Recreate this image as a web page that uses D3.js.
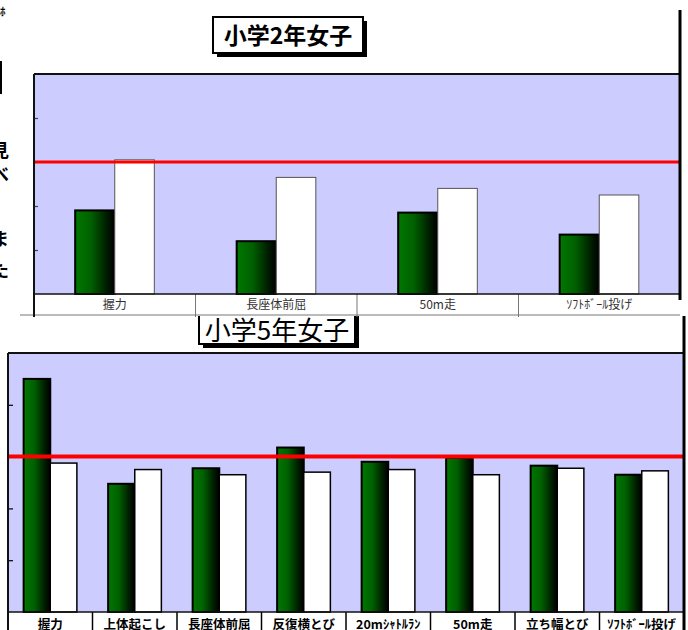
<!DOCTYPE html>
<html>
<head>
<meta charset="utf-8">
<script src="https://cdn.jsdelivr.net/npm/d3@7"></script>
<style>
  body { margin: 0; background: #fff; }
  svg { display: block; font-family: "Noto Sans CJK JP", "Noto Sans", sans-serif; }
</style>
</head>
<body>
<svg id="v1" width="688" height="630"></svg>
<script>
// --- data ---
const grade2Title = "小学2年女子";
const grade2Categories = ["握力", "長座体前屈", "50m走", "ｿﾌﾄﾎﾞｰﾙ投げ"];
const grade2School = [38, 24, 37, 27];
const grade2National = [61, 53, 48, 45];

const grade5Title = "小学5年女子";
const grade5Categories = ["握力", "上体起こし", "長座体前屈", "反復横とび", "20mｼｬﾄﾙﾗﾝ", "50m走", "立ち幅とび", "ｿﾌﾄﾎﾞｰﾙ投げ"];
const grade5School = [90, 49.5, 55.5, 63.5, 58, 59.5, 56.5, 53];
const grade5National = [57.5, 55, 53, 54, 55, 53, 55.5, 54.5];

const yDomain = [0, 100];
const yTicks = [20, 40, 60, 80];
const refValue = 60;

// cut-off text from the page column at the left edge
const edgeChars = [["ﾎ", 16, 11], ["見", 157, 18], ["べ", 181, 18], ["ま", 246, 18], ["た", 277, 18]];

const svg = d3.select("#v1");
const defs = svg.append("defs");

const grad = defs.append("linearGradient").attr("id", "greenGrad")
  .attr("x1", "0%").attr("x2", "100%").attr("y1", "0%").attr("y2", "0%");
grad.append("stop").attr("offset", "0%").attr("stop-color", "#007800");
grad.append("stop").attr("offset", "40%").attr("stop-color", "#006000");
grad.append("stop").attr("offset", "80%").attr("stop-color", "#001c00");
grad.append("stop").attr("offset", "100%").attr("stop-color", "#000000");

function drawChart(id, title, cats, school, national, L) {
  let g = svg.append("g");
  if (L.clipTop != null) {
    defs.append("clipPath").attr("id", id + "_clip")
      .append("rect").attr("x", 0).attr("y", L.clipTop).attr("width", 688).attr("height", 630 - L.clipTop);
    g.attr("clip-path", `url(#${id}_clip)`);
  }

  const x = d3.scaleBand().domain(cats).range([L.left, L.right]);
  const y = d3.scaleLinear().domain(yDomain).range([L.bottom, L.top]);
  const inner = d3.scaleBand().domain(["school", "national"])
    .range([0, x.bandwidth() * L.groupFrac]);
  const off = (x.bandwidth() * (1 - L.groupFrac)) / 2;

  // title box with shadow
  const t = L.title;
  g.append("rect").attr("x", t.x + t.shadow).attr("y", t.y + t.shadow)
    .attr("width", t.w).attr("height", t.h).attr("fill", "#000");
  g.append("rect").attr("x", t.x).attr("y", t.y).attr("width", t.w).attr("height", t.h)
    .attr("fill", "#fff").attr("stroke", "#000").attr("stroke-width", 2);
  g.append("text").attr("x", t.x + t.w / 2).attr("y", t.base)
    .attr("text-anchor", "middle").attr("font-size", t.size + "px")
    .attr("font-weight", t.weight).attr("fill", "#000").text(title);

  // plot background
  g.append("rect").attr("x", L.left).attr("y", L.top)
    .attr("width", L.right - L.left).attr("height", L.bottom - L.top)
    .attr("fill", "#ccccff");

  // y axis ticks (no labels)
  const ax = g.append("g").attr("transform", `translate(${L.left},0)`)
    .call(d3.axisLeft(y).tickValues(yTicks).tickSize(-L.tick).tickFormat(""));
  ax.select(".domain").remove();
  ax.selectAll("line").attr("stroke", L.tickColor).attr("stroke-width", 1.2);

  // label row
  g.append("rect").attr("x", L.left).attr("y", L.bottom)
    .attr("width", L.right - L.left).attr("height", L.labelBottom - L.bottom).attr("fill", "#fff");
  g.selectAll(".sep").data(cats.slice(1)).enter().append("line")
    .attr("x1", (d) => x(d)).attr("x2", (d) => x(d))
    .attr("y1", L.bottom).attr("y2", L.labelBottom + 2)
    .attr("stroke", L.cellColor).attr("stroke-width", L.cellWidth);
  if (L.labelLine) {
    g.append("line").attr("x1", L.labelLineLeft).attr("x2", L.right)
      .attr("y1", L.labelBottom).attr("y2", L.labelBottom)
      .attr("stroke", L.cellColor).attr("stroke-width", 1);
  }
  g.selectAll(".lab").data(cats).enter().append("text")
    .attr("x", (d) => x(d) + x.bandwidth() / 2).attr("y", L.labelBase)
    .attr("text-anchor", "middle").attr("font-size", L.labelSize + "px")
    .attr("font-weight", L.labelWeight).attr("fill", L.labelColor)
    .text((d) => d);

  // bars
  const rows = cats.map((c, i) => ({ c, school: school[i], national: national[i] }));
  const grp = g.selectAll(".grp").data(rows).enter().append("g")
    .attr("transform", (d) => `translate(${x(d.c) + off},0)`);
  grp.append("rect")
    .attr("x", inner("school")).attr("width", inner.bandwidth())
    .attr("y", (d) => y(d.school)).attr("height", (d) => L.bottom - y(d.school))
    .attr("fill", "url(#greenGrad)").attr("stroke", "#000").attr("stroke-width", L.greenStroke);
  grp.append("rect")
    .attr("x", inner("national")).attr("width", inner.bandwidth())
    .attr("y", (d) => y(d.national)).attr("height", (d) => L.bottom - y(d.national))
    .attr("fill", "#fff").attr("stroke", L.whiteStrokeColor).attr("stroke-width", L.whiteStroke);

  // reference line
  g.append("line").attr("x1", L.left).attr("x2", L.right)
    .attr("y1", y(refValue)).attr("y2", y(refValue))
    .attr("stroke", "#ff0000").attr("stroke-width", L.refWidth);

  // plot frame
  g.append("line").attr("x1", L.left).attr("x2", L.right).attr("y1", L.top).attr("y2", L.top)
    .attr("stroke", "#111").attr("stroke-width", 2);
  g.append("line").attr("x1", L.left).attr("x2", L.right).attr("y1", L.bottom).attr("y2", L.bottom)
    .attr("stroke", "#111").attr("stroke-width", 1.5);
  g.append("line").attr("x1", L.left).attr("x2", L.left).attr("y1", L.top).attr("y2", L.labelBottom + 2)
    .attr("stroke", "#111").attr("stroke-width", 2);

  // thick right border
  g.append("line").attr("x1", L.edge.x).attr("x2", L.edge.x)
    .attr("y1", L.edge.y0).attr("y2", L.edge.y1)
    .attr("stroke", "#000").attr("stroke-width", 3);
}

// lower chart first, so the upper one covers its clipped title
drawChart("g5", grade5Title, grade5Categories, grade5School, grade5National, {
  left: 8, right: 684, top: 353, bottom: 612, labelBottom: 640,
  groupFrac: 0.63, tick: 5, tickColor: "#000",
  cellColor: "#000", cellWidth: 1.5, labelLine: false,
  labelBase: 629, labelSize: 12.5, labelWeight: 700, labelColor: "#000",
  greenStroke: 2, whiteStroke: 1.5, whiteStrokeColor: "#000", refWidth: 4,
  clipTop: 316,
  title: { x: 199, y: 303, w: 156, h: 41, shadow: 4, base: 340, size: 26, weight: 400 },
  edge: { x: 684, y0: 296, y1: 630 }
});

drawChart("g2", grade2Title, grade2Categories, grade2School, grade2National, {
  left: 34, right: 680, top: 74, bottom: 294, labelBottom: 315,
  groupFrac: 0.49, tick: 4, tickColor: "#444",
  cellColor: "#777", cellWidth: 1, labelLine: true, labelLineLeft: 20,
  labelBase: 309, labelSize: 12, labelWeight: 400, labelColor: "#333",
  greenStroke: 2, whiteStroke: 1, whiteStrokeColor: "#555", refWidth: 3,
  title: { x: 213, y: 17, w: 150, h: 36, shadow: 4, base: 44, size: 23, weight: 700 },
  edge: { x: 680, y0: 10, y1: 300 }
});

// page text cut off at the left edge
svg.append("g").selectAll("text").data(edgeChars).enter().append("text")
  .attr("x", (d) => (d[2] > 12 ? -9 : 0)).attr("y", (d) => d[1])
  .attr("font-size", (d) => d[2] + "px").attr("font-weight", 700)
  .attr("fill", "#000").text((d) => d[0]);
svg.append("line").attr("x1", 1).attr("x2", 1).attr("y1", 61).attr("y2", 94)
  .attr("stroke", "#000").attr("stroke-width", 2);
</script>
</body>
</html>
